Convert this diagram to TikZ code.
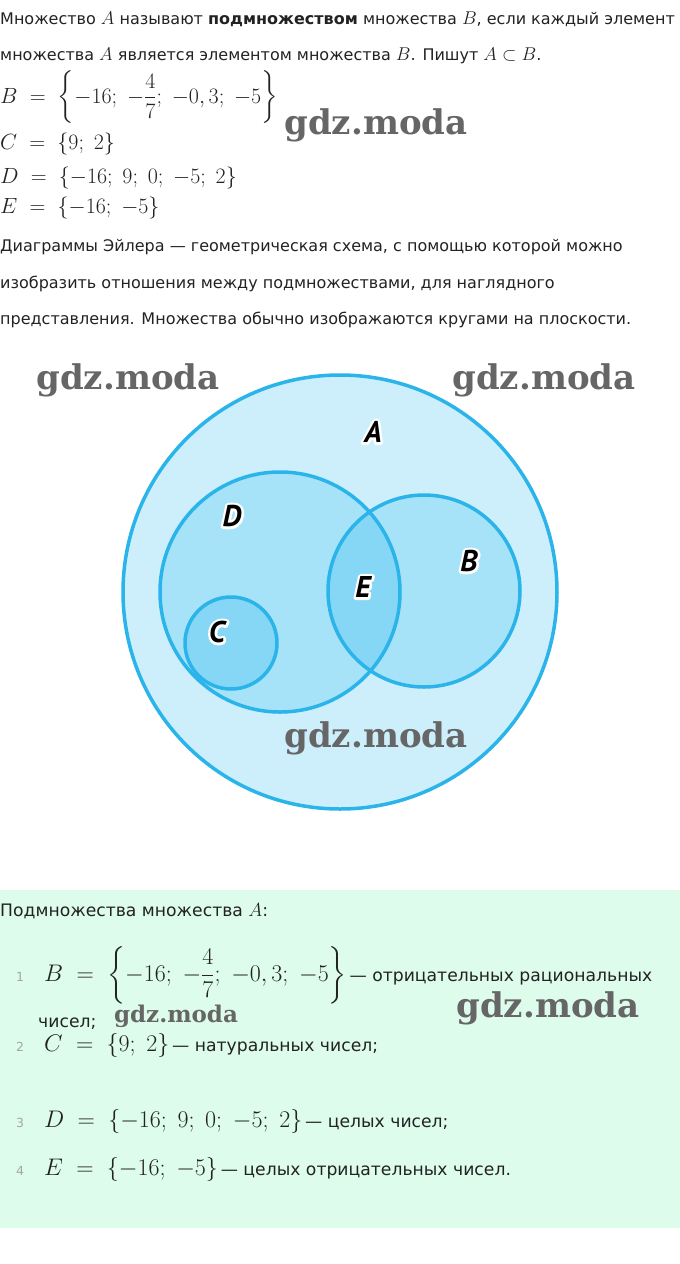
\RequirePackage{fix-cm}
\documentclass[tikz,border=0pt]{standalone}
\usepackage{amsmath}
\usepackage{amssymb}
\usepackage[no-math]{fontspec}
\usepackage{xcolor}
\usetikzlibrary{positioning}
\newfontfamily\bodyfont{DejaVu Sans}
\newfontfamily\lblfont{PT Sans}
\newfontfamily\wmfont{DejaVu Serif}

\definecolor{ringblue}{HTML}{2BB4E9}
\definecolor{fillA}{HTML}{CDEFFC}
\definecolor{fillD}{HTML}{A6E3F9}
\definecolor{fillE}{HTML}{86D6F6}
\definecolor{boxgreen}{HTML}{DDFCEB}
\definecolor{inkgray}{HTML}{222222}

% Formeln in eigener Groesse
\newcommand\mth[2][22]{{\fontsize{#1}{#1}\selectfont$#2$}}
% weisser Rand um die Buchstaben (Umriss der Glyphe)
\newcommand\halo[1]{\rlap{\color{white}\special{pdf:literal direct 5 w 1 j 2 Tr}#1\special{pdf:literal direct 0 Tr}}#1}

\begin{document}
\begin{tikzpicture}[x=1pt,y=-1pt,
    txt/.style={anchor=base west,inner sep=0pt,text=inkgray,
      font=\bodyfont\fontsize{16}{19}\selectfont},
    txtb/.style={txt,font=\bodyfont\fontsize{17.2}{20}\selectfont},
    num/.style={anchor=base west,inner sep=0pt,text=gray!70,
      font=\bodyfont\fontsize{12.5}{14}\selectfont},
    ring/.style={draw=ringblue,line width=3.5pt},
    lbl/.style={inner sep=0pt,font=\lblfont\bfseries\itshape\fontsize{30}{32}\selectfont},
    wm/.style={inner sep=0pt,text=gray!80!black,
      font=\wmfont\bfseries\fontsize{34}{36}\selectfont},
    wmsmall/.style={wm,font=\wmfont\bfseries\fontsize{23}{25}\selectfont}]
    \useasboundingbox (0,0) rectangle (680,1264);

    % Koordinaten
    \coordinate (mA) at (340,592);
    \coordinate (mD) at (280,592);
    \coordinate (mB) at (424,591);
    \coordinate (mC) at (231,643);

    % Text oben
    \node[txt] (l1) at (0,24) {Множество \mth[18.5]{A} называют \textbf{подмножеством} множества \mth[18.5]{B}, если каждый элемент};
    \node[txt] (l2) at (0,60) {множества \mth[18.5]{A} является элементом множества \mth[18.5]{B}. Пишут \mth[18.5]{A\subset B}.};
    \node[txt] (setB) at (0,103) {\mth{B\;=\;\left\{-16;\;-\dfrac{4}{7};\;-0,3;\;-5\right\}}};
    \node[txt] (setC) at (0,149) {\mth{C\;=\;\{9;\;2\}}};
    \node[txt] (setD) at (0,183) {\mth{D\;=\;\{-16;\;9;\;0;\;-5;\;2\}}};
    \node[txt] (setE) at (0,213) {\mth{E\;=\;\{-16;\;-5\}}};
    \node[txt] (p1) at (0,251) {Диаграммы Эйлера — геометрическая схема, с помощью которой можно};
    \node[txt] (p2) at (0,288) {изобразить отношения между подмножествами, для наглядного};
    \node[txt] (p3) at (0,324) {представления. Множества обычно изображаются кругами на плоскости.};

    % Kreise
    \fill[fillA] (mA) circle (217);
    \fill[fillD] (mD) circle (120);
    \fill[fillD] (mB) circle (96);
    \begin{scope}
      \clip (mD) circle (120);
      \fill[fillE] (mB) circle (96);
    \end{scope}
    \fill[fillE] (mC) circle (46);
    \draw[ring] (mA) circle (217);
    \draw[ring] (mD) circle (120);
    \draw[ring] (mB) circle (96);
    \draw[ring] (mC) circle (46);

    % Beschriftung
    \node[lbl] (labA) at (373,432) {\halo{A}};
    \node[lbl] (labD) at (232,516) {\halo{D}};
    \node[lbl] (labB) at (469,561) {\halo{B}};
    \node[lbl] (labE) at (363,587) {\halo{E}};
    \node[lbl] (labC) at (217,632) {\halo{C}};

    % Kasten unten
    \fill[boxgreen] (0,890) rectangle (680,1228);
    \node[txtb] (sub) at (0,916) {Подмножества множества \mth[19]{A}:};
    \node[num] (n1) at (16,981) {1};
    \node[txtb] (it1) at (44,981) {\mth[24]{B\;=\;\left\{-16;\;-\dfrac{4}{7};\;-0,3;\;-5\right\}}\,— отрицательных рациональных};
    \node[txtb] (it1b) at (38,1027) {чисел;};
    \node[num] (n2) at (16,1051) {2};
    \node[txtb] (it2) at (44,1051) {\mth[24]{C\;=\;\{9;\;2\}}\,— натуральных чисел;};
    \node[num] (n3) at (16,1127) {3};
    \node[txtb] (it3) at (44,1127) {\mth[24]{D\;=\;\{-16;\;9;\;0;\;-5;\;2\}}\,— целых чисел;};
    \node[num] (n4) at (16,1175) {4};
    \node[txtb] (it4) at (44,1175) {\mth[24]{E\;=\;\{-16;\;-5\}}\,— целых отрицательных чисел.};

    % Wasserzeichen
    \node[wm] (wm1) at (376,125) {gdz.moda};
    \node[wm] (wm2) at (128,380) {gdz.moda};
    \node[wm] (wm3) at (544,380) {gdz.moda};
    \node[wm] (wm4) at (376,738) {gdz.moda};
    \node[wm] (wm5) at (548,1008) {gdz.moda};
    \node[wmsmall] (wm6) at (176,1016) {gdz.moda};
\end{tikzpicture}
\end{document}
